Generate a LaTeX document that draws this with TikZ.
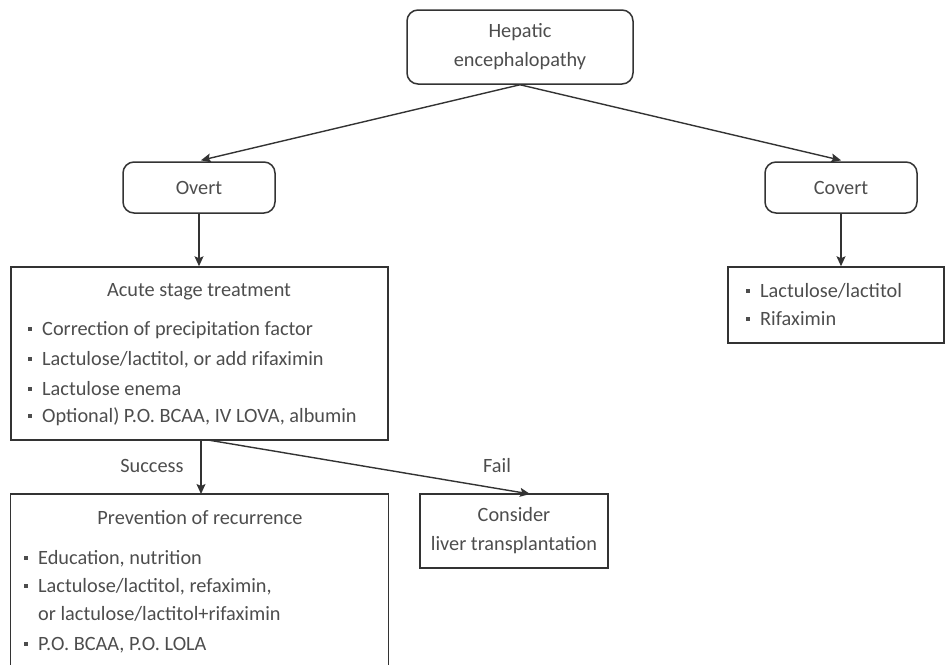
\documentclass[tikz,border=0pt]{standalone}
\usepackage{fontspec}
\setmainfont{Carlito}
\usetikzlibrary{arrows.meta}
\definecolor{txt}{HTML}{4D4D4D}
\definecolor{ln}{HTML}{333333}
\newcommand{\bulsq}{\textcolor{txt}{\rule[0.22em]{3.2pt}{3.2pt}}}
\begin{document}
\begin{tikzpicture}[x=1pt,y=-1pt,
  every node/.style={text=txt, font=\fontsize{20.3}{29}\selectfont},
  rbox/.style={draw=ln, line width=1.5pt, rounded corners=11pt, inner sep=0pt, align=center},
  sbox/.style={draw=ln, line width=1.5pt, inner sep=0pt, align=center},
  li/.style={anchor=base west, inner sep=0pt},
  bu/.style={anchor=base, inner sep=0pt},
  arr/.style={draw=ln, line width=1.4pt, -{Stealth[length=10pt,width=9pt,inset=2pt]}}]
\useasboundingbox (0,0) rectangle (945,664);
\clip (0,0) rectangle (945,664);

% top
\node[rbox, minimum width=226pt, minimum height=74pt] (he) at (520,47) {Hepatic\\encephalopathy};
\node[rbox, minimum width=152pt, minimum height=51pt] (ov) at (199,187.5) {Overt};
\node[rbox, minimum width=152pt, minimum height=51pt] (co) at (841,187.5) {Covert};

% acute
\node[sbox, minimum width=377pt, minimum height=173pt] (ac) at (199.5,353.5) {};
\node (act) at (199,292) {Acute stage treatment};
\node[bu] (ab1) at (30,335) {\bulsq};
\node[li] (a1) at (42,335) {Correction of precipitation factor};
\node[bu] (ab2) at (30,365) {\bulsq};
\node[li] (a2) at (42,365) {Lactulose/lactitol, or add rifaximin};
\node[bu] (ab3) at (30,395) {\bulsq};
\node[li] (a3) at (42,395) {Lactulose enema};
\node[bu] (ab4) at (30,422) {\bulsq};
\node[li] (a4) at (42,422) {Optional) P.O. BCAA, IV LOVA, albumin};

% covert list
\node[sbox, minimum width=216pt, minimum height=76pt] (cl) at (836,305) {};
\node[bu] (cb1) at (748,297) {\bulsq};
\node[li] (c1) at (760,297) {Lactulose/lactitol};
\node[bu] (cb2) at (748,325) {\bulsq};
\node[li] (c2) at (760,325) {Rifaximin};

% prevention
\node[sbox, minimum width=378pt, minimum height=200pt] (pr) at (199.5,594) {};
\node (prt) at (200,518) {Prevention of recurrence};
\node[bu] (pb1) at (26,564) {\bulsq};
\node[li] (p1) at (38,564) {Education, nutrition};
\node[bu] (pb2) at (26,592) {\bulsq};
\node[li] (p2) at (38,592) {Lactulose/lactitol, refaximin,};
\node[li] (p3) at (38,620) {or lactulose/lactitol+rifaximin};
\node[bu] (pb4) at (26,650) {\bulsq};
\node[li] (p4) at (38,650) {P.O. BCAA, P.O. LOLA};

% consider
\node[sbox, minimum width=188pt, minimum height=74pt] (cs) at (514,531) {Consider\\liver transplantation};

% connectors
\coordinate (acS) at (201,440);
\coordinate (acF) at (208,440);
\coordinate (prN) at (201,494);
\coordinate (csN) at (530,494);
\draw[arr, shorten >=4pt] (he.south) -- (ov.north -| 197,0);
\draw[arr, shorten >=4pt] (he.south) -- (co.north -| 845,0);
\draw[arr] (ov.south) -- (ac.north -| ov.south);
\draw[arr] (co.south) -- (cl.north -| co.south);
\draw[arr] (acS) -- (prN);
\draw[arr] (acF) -- (csN);
\node (succ) at (152,466) {Success};
\node (fail) at (497,466) {Fail};
\end{tikzpicture}
\end{document}
